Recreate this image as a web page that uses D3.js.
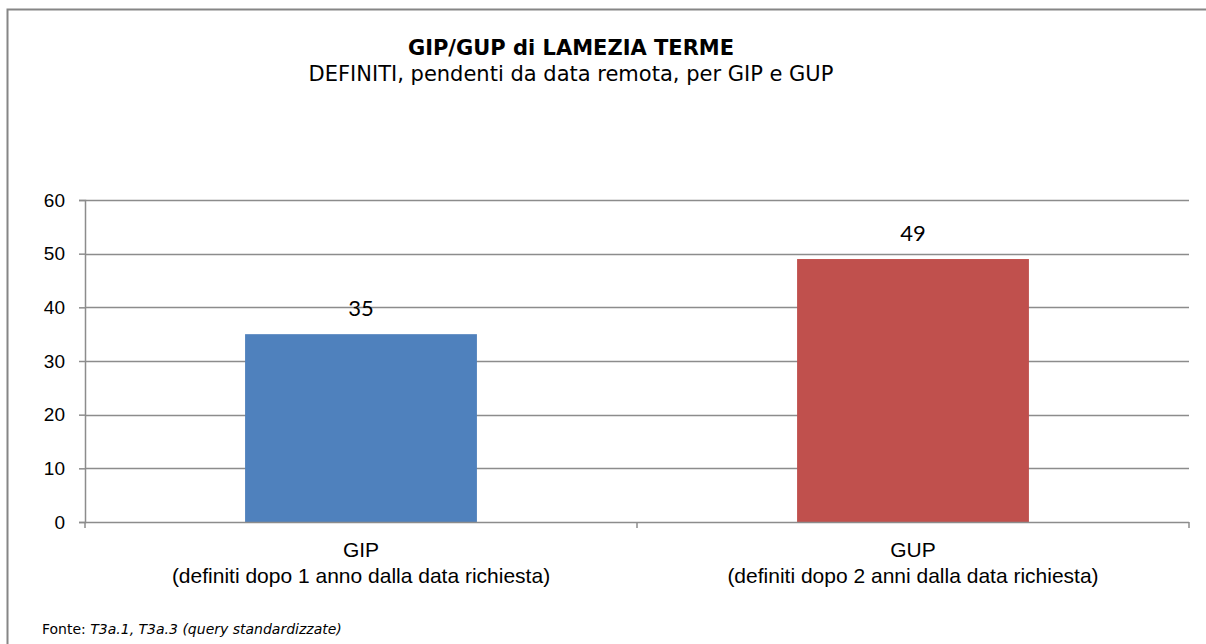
<!DOCTYPE html>
<html>
<head>
<meta charset="utf-8">
<script src="https://cdn.jsdelivr.net/npm/d3@7"></script>
<style>
  body { margin: 0; background: #fff; }
  svg { display: block; }
</style>
</head>
<body>
<svg id="chart" width="1206" height="644"></svg>
<script>
// data
const categories = ["GIP", "GUP"];
const subLabels = ["(definiti dopo 1 anno dalla data richiesta)", "(definiti dopo 2 anni dalla data richiesta)"];
const values = [35, 49];
const colors = ["#4F81BD", "#C0504D"];
const yTicks = [0, 10, 20, 30, 40, 50, 60];

const svg = d3.select("#chart");
const margin = {left: 85, top: 200, right: 17, bottom: 122};
const W = 1206, H = 644;
const w = W - margin.left - margin.right;
const h = H - margin.top - margin.bottom;

// outer frame (left + top only visible)
svg.append("path")
  .attr("d", "M7.5,644 L7.5,9.5 L1206,9.5")
  .attr("fill", "none").attr("stroke", "#868686").attr("stroke-width", 2);

svg.append("text").attr("x", 571).attr("y", 55)
  .attr("text-anchor", "middle")
  .style("font", "bold 21px 'DejaVu Sans', Verdana, sans-serif")
  .text("GIP/GUP di LAMEZIA TERME");
svg.append("text").attr("x", 571).attr("y", 81)
  .attr("text-anchor", "middle")
  .style("font", "21px 'DejaVu Sans', Verdana, sans-serif")
  .text("DEFINITI, pendenti da data remota, per GIP e GUP");

const g = svg.append("g").attr("transform", `translate(${margin.left},${margin.top})`);

const y = d3.scaleLinear().domain([0, 60]).range([h, 0]);
const x = d3.scaleBand().domain(categories).range([0, w]).paddingInner(0.58).paddingOuter(0.29);

// gridlines
g.append("g").selectAll("line").data(yTicks.filter(d => d > 0)).join("line")
  .attr("x1", 0).attr("x2", w)
  .attr("y1", d => Math.round(y(d)) + 0.5).attr("y2", d => Math.round(y(d)) + 0.5)
  .attr("stroke", "#8c8c8c").attr("stroke-width", 1.5);

// y axis
const yAxis = g.append("g").call(d3.axisLeft(y).tickValues(yTicks).tickSize(6).tickPadding(14));
yAxis.select(".domain").attr("stroke", "#8c8c8c").attr("stroke-width", 1.5);
yAxis.selectAll(".tick line").attr("stroke", "#8c8c8c").attr("stroke-width", 1.5);
yAxis.selectAll(".tick text")
  .style("font", "19px 'Liberation Sans', Arial, sans-serif").attr("fill", "#000");

// bars
g.selectAll("rect.bar").data(values).join("rect")
  .attr("class", "bar")
  .attr("x", (d, i) => x(categories[i]))
  .attr("y", d => y(d))
  .attr("width", x.bandwidth())
  .attr("height", d => h - y(d))
  .attr("fill", (d, i) => colors[i]);

// value labels
g.selectAll("text.val").data(values).join("text")
  .attr("class", "val")
  .attr("x", (d, i) => x(categories[i]) + x.bandwidth() / 2)
  .attr("y", d => y(d) - 18)
  .attr("text-anchor", "middle")
  .style("font", "22px Lato, 'Open Sans', sans-serif")
  .text(d => d);

// x axis line + category boundary ticks
g.append("line").attr("x1", 0).attr("x2", w).attr("y1", h + 0.5).attr("y2", h + 0.5)
  .attr("stroke", "#8c8c8c").attr("stroke-width", 1.5);
const bounds = d3.range(categories.length + 1).map(i => i * x.step());
g.append("g").selectAll("line").data(bounds).join("line")
  .attr("x1", d => d).attr("x2", d => d)
  .attr("y1", h).attr("y2", h + 6)
  .attr("stroke", "#8c8c8c").attr("stroke-width", 1.5);

// category labels
const lab = g.append("g").selectAll("text").data(categories).join("text")
  .attr("text-anchor", "middle")
  .style("font", "21px 'Liberation Sans', Arial, sans-serif");
lab.append("tspan").attr("x", d => x(d) + x.bandwidth() / 2).attr("y", h + 35).text(d => d);
lab.append("tspan").attr("x", d => x(d) + x.bandwidth() / 2).attr("y", h + 61).text((d, i) => subLabels[i]);

// footer
const f = svg.append("text").attr("x", 42).attr("y", 634)
  .style("font", "14px 'DejaVu Sans', Verdana, sans-serif");
f.append("tspan").text("Fonte: ");
f.append("tspan").style("font-style", "italic").text("T3a.1, T3a.3 (query standardizzate)");
</script>
</body>
</html>
